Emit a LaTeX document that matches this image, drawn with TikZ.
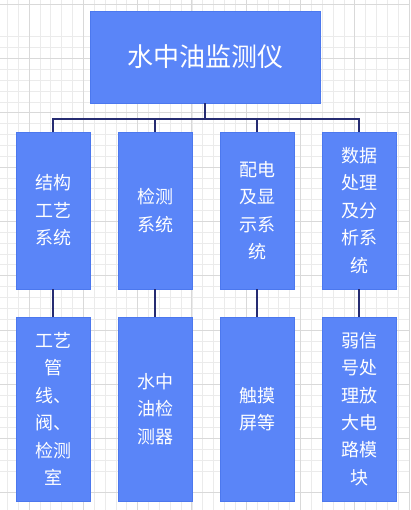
\documentclass[tikz,border=0pt]{standalone}
\usepackage{fontspec}
\setmainfont{Noto Sans CJK SC}
\definecolor{boxfill}{HTML}{5A85F8}
\definecolor{boxline}{HTML}{4C78EE}
\definecolor{conn}{HTML}{262C72}
\definecolor{gridminor}{HTML}{EBEBEB}
\definecolor{gridmajor}{HTML}{D9D9D9}
\tikzset{
  box/.style={rectangle, fill=boxfill, draw=boxline, line width=0.8pt, text=white, align=center, inner sep=0pt, font=\fontsize{18}{27.4}\selectfont},
  titlebox/.style={box, minimum width=230pt, minimum height=92pt, font=\fontsize{26}{30}\selectfont},
  midbox/.style={box, minimum width=74pt, minimum height=157pt},
  lowbox/.style={box, minimum width=74pt, minimum height=184pt},
  link/.style={draw=conn, line width=1.2pt}
}
\begin{document}
\begin{tikzpicture}[x=1pt,y=-1pt]
\useasboundingbox (0,0) rectangle (410,510);
\fill[white] (0,0) rectangle (410,510);
% grid
\foreach \i in {-2,...,38} {
  \pgfmathsetmacro{\gx}{29+10.86*\i}
  \pgfmathsetmacro{\gy}{58.5+10.86*\i}
  \draw[gridminor, line width=0.7pt] (\gx,0) -- (\gx,510);
  \draw[gridminor, line width=0.7pt] (0,\gy) -- (410,\gy);
}
\foreach \i in {-1,...,8} {
  \pgfmathsetmacro{\gx}{29+54.3*\i}
  \pgfmathsetmacro{\gy}{58.5+54.3*\i}
  \draw[gridmajor, line width=0.9pt] (\gx,0) -- (\gx,510);
  \draw[gridmajor, line width=0.9pt] (0,\gy) -- (410,\gy);
}
% nodes
\node[titlebox] (top) at (205,57) {水中油监测仪};
\node[midbox] (b1) at (53,210.5) {结构\\工艺\\系统};
\node[midbox] (b2) at (155,210.5) {检测\\系统};
\node[midbox] (b3) at (257,210.5) {配电\\及显\\示系\\统};
\node[midbox] (b4) at (359,210.5) {数据\\处理\\及分\\析系\\统};
\node[lowbox] (c1) at (53,409) {工艺\\管\\线、\\阀、\\检测\\室};
\node[lowbox] (c2) at (155,409) {水中\\油检\\测器};
\node[lowbox] (c3) at (257,409) {触摸\\屏等};
\node[lowbox] (c4) at (359,409) {弱信\\号处\\理放\\大电\\路模\\块};
\coordinate (bus) at (205,119);
% connectors
\draw[link] (top.south) -- (bus);
\foreach \n in {b1,b2,b3,b4} { \draw[link] (bus) -| (\n.north); }
\draw[link] (b1.south) -- (c1.north);
\draw[link] (b2.south) -- (c2.north);
\draw[link] (b3.south) -- (c3.north);
\draw[link] (b4.south) -- (c4.north);
\end{tikzpicture}
\end{document}
